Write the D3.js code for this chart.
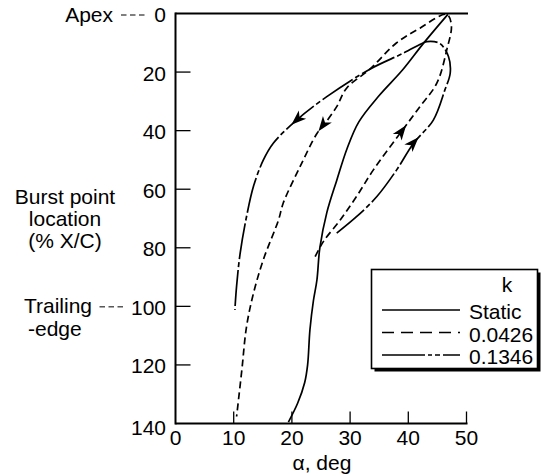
<!DOCTYPE html>
<html><head><meta charset="utf-8">
<script src="https://cdn.jsdelivr.net/npm/d3@7"></script>
<style>body{margin:0;background:#fff}svg{display:block}text{font-family:"Liberation Sans",Arial,sans-serif;fill:#000}</style>
</head><body><svg id="c" width="541" height="476"></svg>
<script>
// alpha (deg) vs burst point location (% X/C)
const staticAlpha = [19.4,21.0,22.2,22.7,23.1,23.7,24.3,24.8,26.0,27.7,29.5,31.5,35.0,39.0,42.6,46.8];
const staticLoc   = [139.5,133,126,120,108,98,91,80,68,57,46,37,28,19.3,10.2,0.3];
const k0426Alpha = [24.0,25.4,28.3,31.1,34.0,38.6,42.0,44.9,46.6,47.4,46.6,42.0,38.0,33.4,29.4,27.7,25.7,24.3,21.4,18.5,17.7,15.1,13.4,12.2,11.4,10.5];
const k0426Loc   = [83.0,77.9,70.5,62.5,53.4,40.9,31.8,23.8,12.5,4.0,0.3,5.0,10.0,19.0,25.5,31.8,37.5,41.0,52.3,64.8,70.5,84.0,95.5,107,121.7,137.6];
const k1346Alpha = [27.7,31.1,34.6,38.0,40.9,44.3,46.3,47.2,46.9,45.4,43.2,42.6,39.1,33.4,26.0,20.8,16.8,15.1,13.4,12.2,11.1,10.5,10.2];
const k1346Loc   = [75.0,69.4,62.5,53.4,44.3,36.4,26.0,20.4,14.7,10.2,9.6,10.0,13.6,19.0,28.4,36.4,44.3,50.0,59.0,69.4,82.0,93.0,101.2];
const xTicks = [0,10,20,30,40,50];
const yTicks = [0,20,40,60,80,100,120,140];
const legendTitle = "k";
const legendLabels = ["Static","0.0426","0.1346"];
// arrow tips (alpha, loc) on each curve
const arrowSeries = ["k0426","k0426","k1346","k1346"];
const arrowAlpha = [38.9,24.7,41.9,20.2];
const arrowLoc   = [37.0,40.5,42.5,38.5];

const svg = d3.select("#c");
const x = d3.scaleLinear().domain([0,50]).range([175.5,466.5]);
const y = d3.scaleLinear().domain([0,140]).range([13.5,423.5]);
const FS = 21;

const series = {
  stat:{a:staticAlpha,l:staticLoc,dash:null},
  k0426:{a:k0426Alpha,l:k0426Loc,dash:"7,4"},
  k1346:{a:k1346Alpha,l:k1346Loc,dash:"36,3,5,3"}
};
const line = d3.line().x(d=>x(d[0])).y(d=>y(d[1])).curve(d3.curveCatmullRom.alpha(0.5));
const paths = {};
for (const key of ["stat","k0426","k1346"]) {
  const s = series[key];
  const pts = s.a.map((v,i)=>[v,s.l[i]]);
  paths[key] = svg.append("path").attr("d",line(pts)).attr("fill","none")
    .attr("stroke","#000").attr("stroke-width",1.7)
    .attr("stroke-dasharray",s.dash);
}
// arrows
const arrowShape = "M0,0 L-15,-5.5 L-11,0 L-15,5.5 Z";
arrowSeries.forEach((key,i)=>{
  const node = paths[key].node();
  const L = node.getTotalLength();
  const tx = x(arrowAlpha[i]), ty = y(arrowLoc[i]);
  let best=0,bd=1e9;
  for(let s=0;s<=L;s+=0.5){const p=node.getPointAtLength(s);const d=(p.x-tx)**2+(p.y-ty)**2;if(d<bd){bd=d;best=s;}}
  const p0=node.getPointAtLength(Math.max(0,best-3)), p1=node.getPointAtLength(Math.min(L,best+3));
  const ang=Math.atan2(p1.y-p0.y,p1.x-p0.x)*180/Math.PI;
  const pt=node.getPointAtLength(best);
  svg.append("path").attr("d",arrowShape).attr("fill","#000")
    .attr("transform",`translate(${pt.x},${pt.y}) rotate(${ang})`);
});

// axes
const ax = svg.append("g").attr("stroke","#000").attr("stroke-width",2).attr("fill","none");
ax.append("line").attr("x1",x(0)).attr("x2",x(0)).attr("y1",y(0)-1).attr("y2",y(140)+1);
ax.append("line").attr("x1",x(0)).attr("x2",x(50)+1).attr("y1",y(140)).attr("y2",y(140));
ax.append("line").attr("x1",x(0)).attr("x2",x(50)+1.5).attr("y1",y(0)).attr("y2",y(0));
xTicks.filter(t=>t>0).forEach(t=>{
  ax.append("line").attr("x1",x(t)).attr("x2",x(t)).attr("y1",y(140)).attr("y2",y(140)-12).attr("stroke-width",1.3);
});
yTicks.filter(t=>t>0&&t<140).forEach(t=>{
  ax.append("line").attr("x1",x(0)).attr("x2",x(0)+15).attr("y1",y(t)).attr("y2",y(t)).attr("stroke-width",1.3);
});
// tick labels
xTicks.forEach(t=>{
  svg.append("text").attr("x",x(t)).attr("y",y(140)+21.5).attr("text-anchor","middle").attr("font-size",FS).text(t);
});
yTicks.forEach(t=>{
  const yy = t===140 ? y(t)+11.5 : y(t)+8.5;
  svg.append("text").attr("x",x(0)-9.5).attr("y",yy).attr("text-anchor","end").attr("font-size",FS).text(t);
});
svg.append("text").attr("x",322).attr("y",470).attr("text-anchor","middle").attr("font-size",FS).text("α, deg");
// y title
const yt = ["Burst point","location","(% X/C)"];
yt.forEach((s,i)=>svg.append("text").attr("x",65).attr("y",204+i*22).attr("text-anchor","middle").attr("font-size",FS).text(s));
svg.append("text").attr("x",113).attr("y",y(0)+8.5).attr("text-anchor","end").attr("font-size",FS).text("Apex");
svg.append("line").attr("x1",121).attr("x2",145).attr("y1",y(0)+1.5).attr("y2",y(0)+1.5).attr("stroke","#000").attr("stroke-width",1).attr("stroke-dasharray","5.5,3.5");
svg.append("text").attr("x",92).attr("y",y(100)+7).attr("text-anchor","end").attr("font-size",FS).text("Trailing");
svg.append("text").attr("x",28).attr("y",336).attr("text-anchor","start").attr("font-size",FS).text("-edge");
svg.append("line").attr("x1",99.5).attr("x2",123.5).attr("y1",y(100)+0.5).attr("y2",y(100)+0.5).attr("stroke","#000").attr("stroke-width",1).attr("stroke-dasharray","5.5,3.5");

// legend
const lg = svg.append("g");
lg.append("rect").attr("x",374.5).attr("y",272.5).attr("width",166).attr("height",99).attr("fill","#000");
lg.append("rect").attr("x",371.5).attr("y",269.5).attr("width",166).attr("height",99).attr("fill","#fff").attr("stroke","#000").attr("stroke-width",1.6);
lg.append("text").attr("x",507).attr("y",292).attr("text-anchor","middle").attr("font-size",FS).text(legendTitle);
const lgDash = [null,"12,7","43,3,4,3,5,3"];
legendLabels.forEach((s,i)=>{
  const yy = 310 + i*22.5;
  lg.append("line").attr("x1",382).attr("x2",460).attr("y1",yy).attr("y2",yy).attr("stroke","#000").attr("stroke-width",1.7).attr("stroke-dasharray",lgDash[i]);
  lg.append("text").attr("x",469).attr("y",yy+9).attr("font-size",FS).text(s);
});
</script></body></html>
